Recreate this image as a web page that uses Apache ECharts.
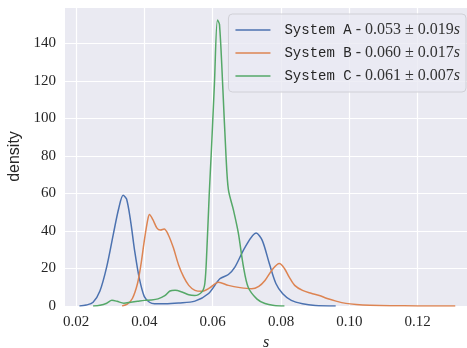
<!DOCTYPE html>
<html>
<head>
<meta charset="utf-8">
<script src="https://cdn.jsdelivr.net/npm/echarts@6/dist/echarts.min.js"></script>
<style>
  html, body { margin: 0; padding: 0; background: #fff; }
  #chart { width: 467px; height: 348px; }
</style>
</head>
<body>
<div id="chart"></div>
<script>
const systems = ["System A", "System B", "System C"];
const means = ["0.053", "0.060", "0.061"];
const stds = ["0.019", "0.017", "0.007"];
const colors = ["#4c72b0", "#dd8452", "#55a868"];
const xTicks = [0.02, 0.04, 0.06, 0.08, 0.1, 0.12];

// density curves: [s, density]
const densityA = [
  [0.021, 0], [0.023, 0.5], [0.025, 2], [0.027, 8], [0.029, 21], [0.031, 39],
  [0.0325, 52], [0.0338, 59], [0.0348, 57], [0.036, 45], [0.0372, 29],
  [0.0385, 15], [0.04, 5], [0.0415, 2], [0.043, 1.2], [0.046, 1.2],
  [0.05, 1.6], [0.0548, 2.6], [0.0587, 6.5], [0.0621, 14.5], [0.0646, 16.8],
  [0.0665, 20.7], [0.0695, 31.4], [0.0727, 38.9], [0.0745, 35], [0.0766, 22.5],
  [0.0785, 12], [0.0805, 6.5], [0.083, 3], [0.0863, 1.2], [0.09, 0.3], [0.096, 0]
];
const densityB = [
  [0.0335, 0], [0.035, 1], [0.0365, 4], [0.038, 12], [0.039, 22], [0.04, 35],
  [0.041, 46], [0.0415, 48.8], [0.0425, 46], [0.0437, 41.5], [0.0447, 40.5],
  [0.0458, 41], [0.047, 38], [0.0485, 31], [0.05, 22], [0.0515, 15.5],
  [0.053, 11], [0.0548, 8.3], [0.0568, 7.8], [0.059, 9.5], [0.0617, 12.7],
  [0.0646, 11], [0.068, 9.8], [0.0714, 9.2], [0.0735, 10.5], [0.0753, 13.6],
  [0.0775, 19.5], [0.0795, 22.6], [0.081, 20], [0.0824, 15.4], [0.084, 11],
  [0.0863, 8.3], [0.0888, 6.8], [0.0912, 5.6], [0.0935, 4], [0.0961, 2.6],
  [0.099, 1.4], [0.102, 0.8], [0.106, 0.4], [0.112, 0.15], [0.12, 0.05], [0.131, 0]
];
const densityC = [
  [0.025, 0], [0.027, 0.4], [0.029, 1.5], [0.0305, 3], [0.032, 2.5],
  [0.034, 1.5], [0.036, 2], [0.038, 2.5], [0.04, 3], [0.042, 3.2],
  [0.044, 3.8], [0.046, 5.5], [0.0475, 8], [0.049, 8.4], [0.051, 7.5],
  [0.053, 6], [0.0547, 5.6], [0.0568, 7.4], [0.0577, 12], [0.0583, 30],
  [0.059, 60], [0.0596, 82], [0.0605, 118], [0.0614, 152.5], [0.062, 150],
  [0.063, 115], [0.0639, 80], [0.0646, 62], [0.0661, 51], [0.0675, 39],
  [0.069, 21], [0.0704, 10], [0.0729, 3.8], [0.0753, 1.3], [0.078, 0.3], [0.081, 0]
];
const densities = [densityA, densityB, densityC];

const chart = echarts.init(document.getElementById("chart"));

const serif = "'Liberation Serif', 'DejaVu Serif', serif";
const mono = "'Liberation Mono', 'DejaVu Sans Mono', monospace";

chart.setOption({
  animation: false,
  backgroundColor: "#fff",
  grid: {
    left: 65, right: 0, top: 7, bottom: 42,
    outerBoundsMode: "none",
    containLabel: false,
    show: true, backgroundColor: "#eaeaf2", borderWidth: 0
  },
  xAxis: {
    type: "value",
    min: 0.01678,
    max: 0.13443,
    name: "s",
    nameLocation: "middle",
    nameGap: 28,
    nameTextStyle: { fontFamily: serif, fontStyle: "italic", fontSize: 16, color: "#262626" },
    axisLine: { show: false },
    axisTick: { show: false, customValues: xTicks },
    axisLabel: {
      customValues: xTicks,
      fontFamily: serif, fontSize: 15, color: "#262626", margin: 9,
      formatter: (v) => v.toFixed(2)
    },
    splitLine: { show: true, lineStyle: { color: "#fff", width: 1.2 } }
  },
  yAxis: {
    type: "value",
    min: 0,
    max: 159.4,
    interval: 20,
    name: "density",
    nameLocation: "middle",
    nameGap: 38,
    nameTextStyle: { fontFamily: "'Liberation Sans', Arial, sans-serif", fontSize: 16, color: "#262626" },
    axisLine: { show: false },
    axisTick: { show: false },
    axisLabel: { fontFamily: serif, fontSize: 15, color: "#262626", margin: 9, showMaxLabel: false },
    splitLine: { show: true, lineStyle: { color: "#fff", width: 1.2 } }
  },
  legend: {
    orient: "vertical",
    right: 1,
    top: 14,
    padding: [8, 6, 8, 7],
    itemWidth: 35,
    itemHeight: 14,
    itemGap: 7,
    backgroundColor: "rgba(234,234,242,0.8)",
    borderColor: "#d0d0d6",
    borderWidth: 1,
    borderRadius: 4,
    icon: "path://M0,0 L35,0 L35,1.5 L0,1.5 Z",
    data: systems,
    formatter: (name) => {
      const i = systems.indexOf(name);
      return `{m|${name}}{n| - ${means[i]} ± ${stds[i]}}{i|s}`;
    },
    textStyle: {
      rich: {
        m: { fontFamily: mono, fontSize: 14, color: "#262626", padding: [0, 0, 0, 9] },
        n: { fontFamily: serif, fontSize: 16, color: "#333" },
        i: { fontFamily: serif, fontSize: 16, fontStyle: "italic", color: "#333" }
      }
    }
  },
  series: systems.map((name, i) => ({
    name,
    type: "line",
    data: densities[i],
    smooth: 0.3,
    showSymbol: false,
    color: colors[i],
    lineStyle: { width: 1.5, color: colors[i] }
  }))
});
</script>
</body>
</html>
